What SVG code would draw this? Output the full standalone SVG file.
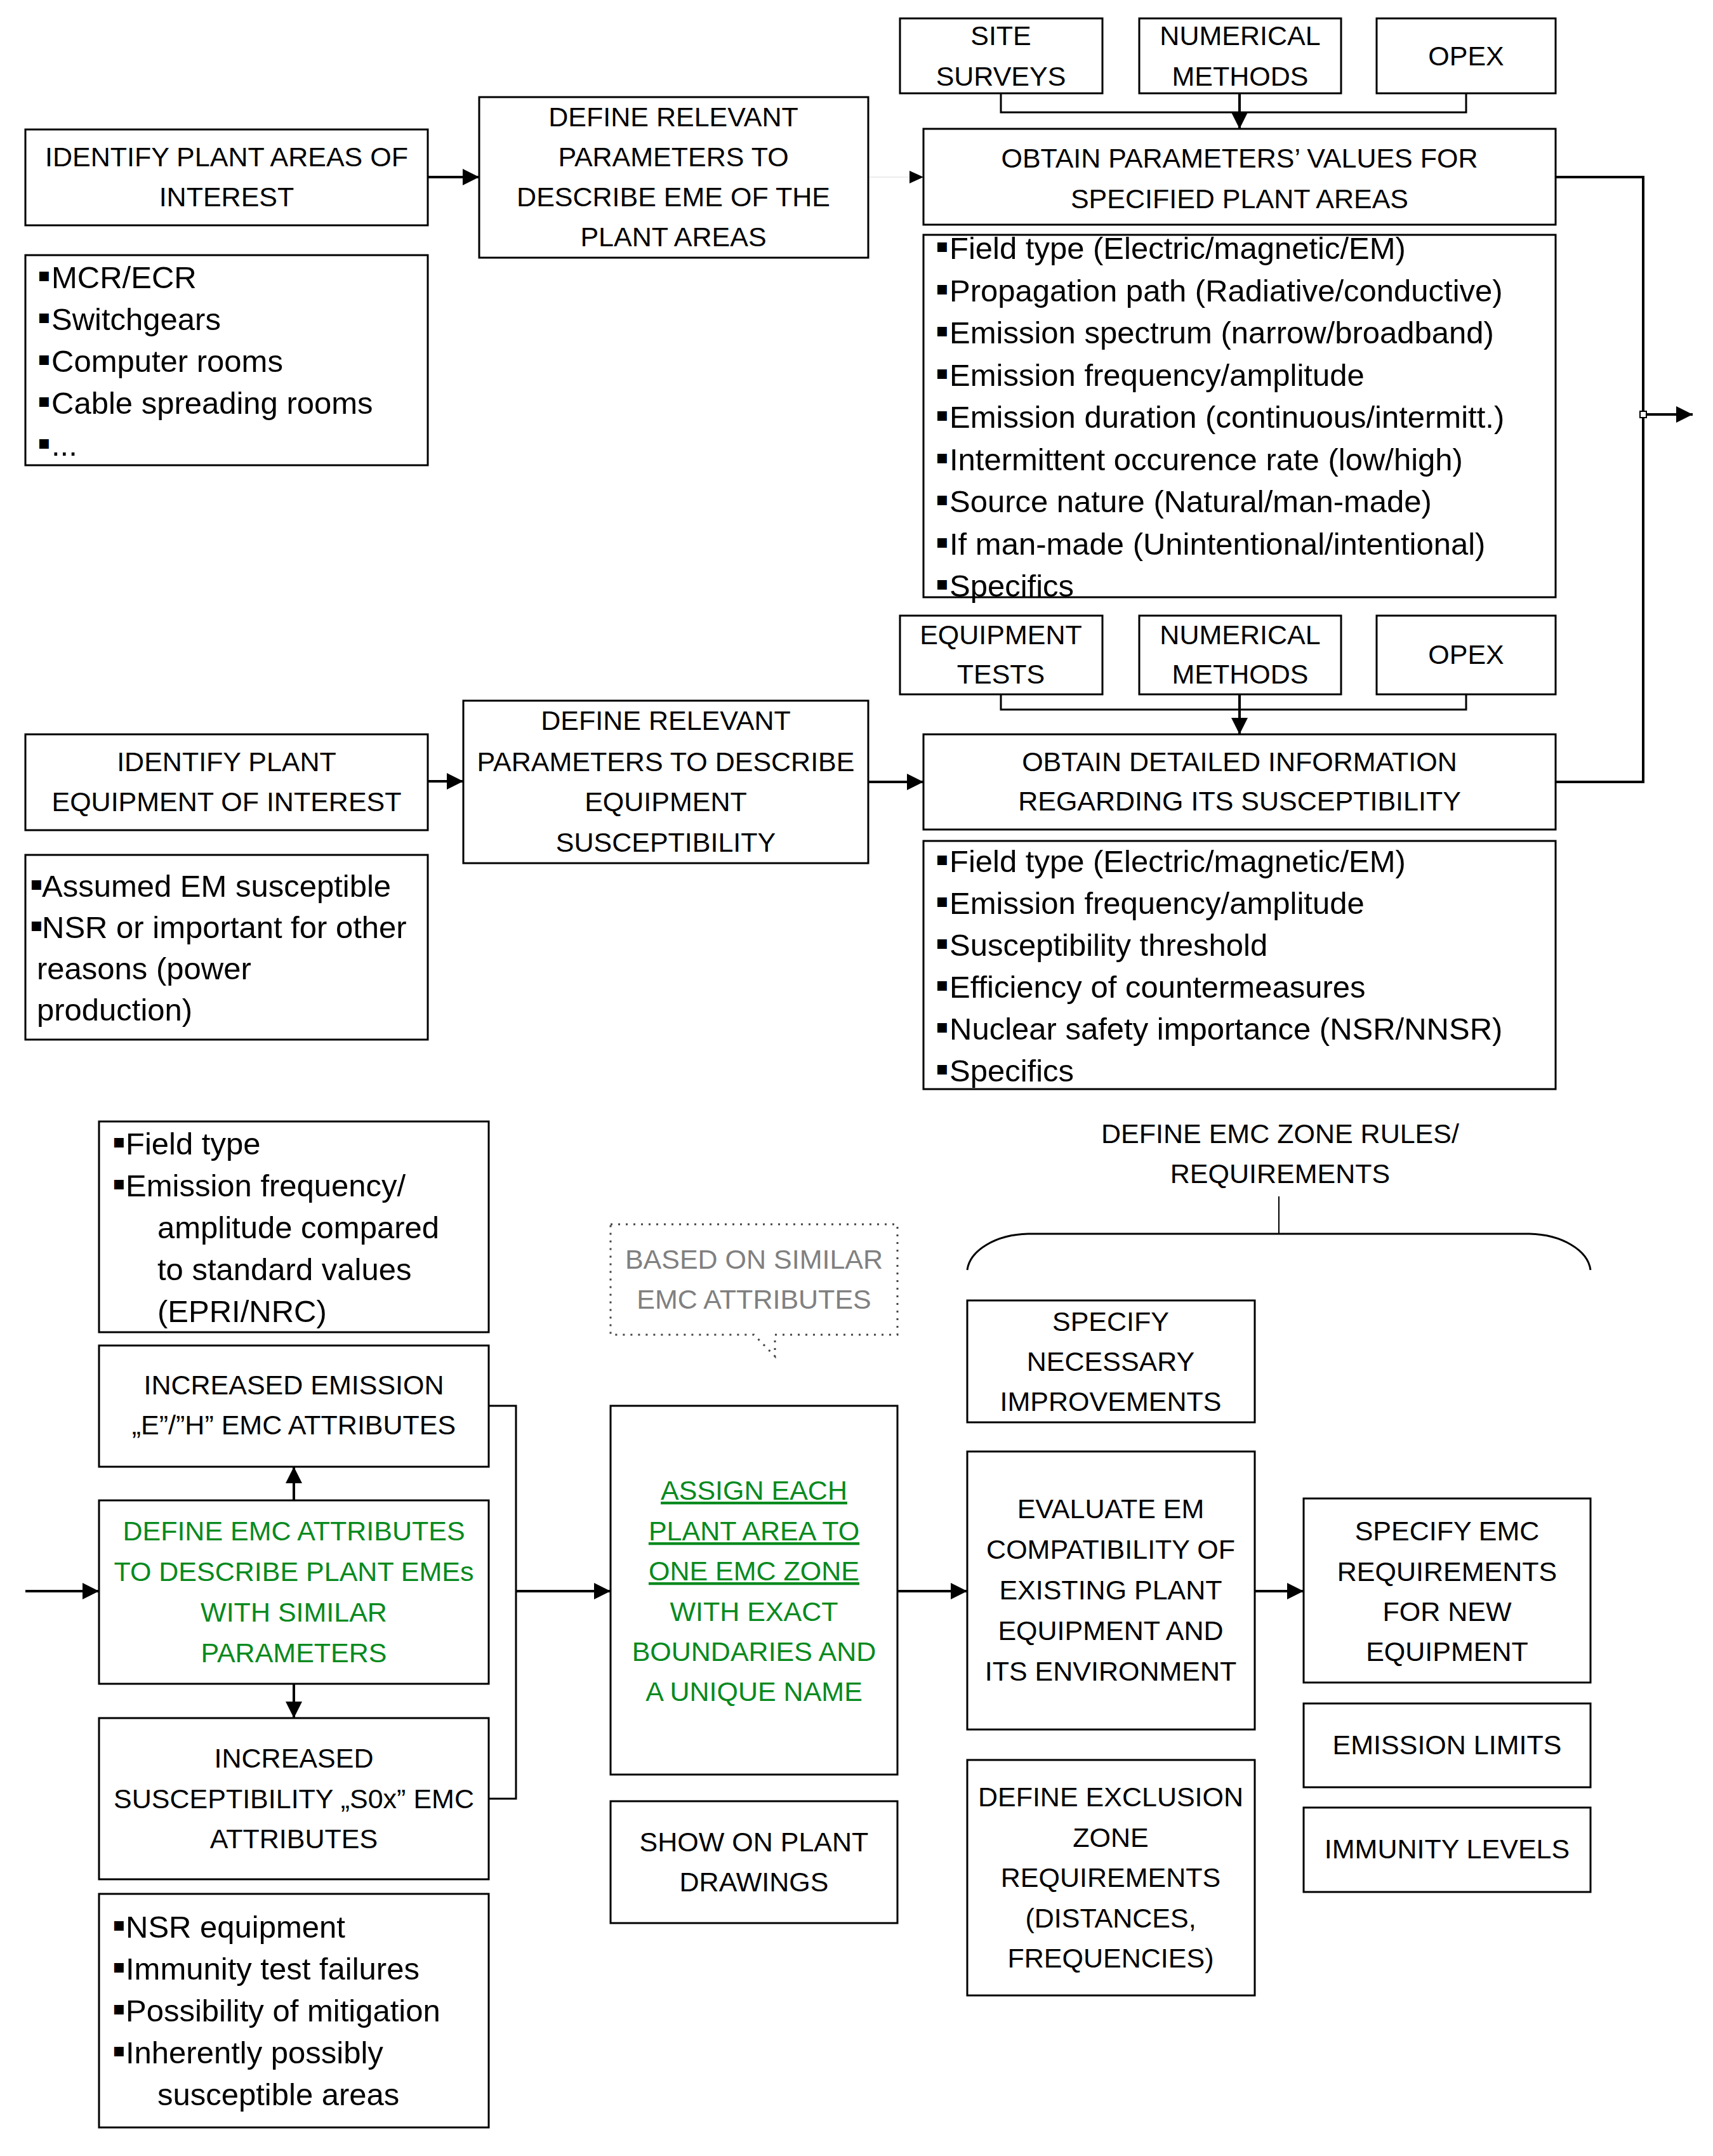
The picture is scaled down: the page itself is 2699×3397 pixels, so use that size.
<svg xmlns="http://www.w3.org/2000/svg" width="2699" height="3397" viewBox="0 0 2699 3397">
<defs>
<style>
.box{fill:#fff;stroke:#000;stroke-width:3}
.t{font-family:"Liberation Sans",Arial,sans-serif;font-size:43px;text-anchor:middle;fill:#000}
.l{font-family:"Liberation Sans",Arial,sans-serif;font-size:49px;fill:#000}
.bu{font-family:"DejaVu Sans",sans-serif;font-size:30px}
.g{fill:#078a1e}
.u{text-decoration:underline}
.gray{fill:#808080}
.c{stroke:#000;stroke-width:4;fill:none}
.thin{stroke:#000;stroke-width:3;fill:none}
</style>
<marker id="ah" markerUnits="userSpaceOnUse" markerWidth="28" markerHeight="26" viewBox="0 0 10 10" refX="10" refY="5" orient="auto">
<path d="M0,0 L10,5 L0,10 z" fill="#000"/>
</marker>
</defs>
<rect width="2699" height="3397" fill="#fff"/>

<g id="connectors">
<line class="c" x1="674" y1="279" x2="755" y2="279" marker-end="url(#ah)"/>
<line x1="1368" y1="279" x2="1435" y2="279" stroke="#ececec" stroke-width="2"/>
<path d="M1433,269 L1455,279 L1433,289 z" fill="#000"/>
<path class="thin" d="M1577,147 V177 H2310 V147"/>
<line class="c" x1="1953" y1="147" x2="1953" y2="203" marker-end="url(#ah)"/>
<path class="thin" d="M1577,1094 V1118 H2310 V1094"/>
<line class="c" x1="1953" y1="1094" x2="1953" y2="1157" marker-end="url(#ah)"/>
<path class="c" d="M2451,279 H2589 V1232 H2451"/>
<line class="c" x1="2589" y1="653" x2="2667" y2="653" marker-end="url(#ah)"/>
<rect x="2584" y="648" width="10" height="10" fill="#fff" stroke="#000" stroke-width="2"/>
<line class="c" x1="674" y1="1231" x2="730" y2="1231" marker-end="url(#ah)"/>
<line class="c" x1="1368" y1="1232" x2="1455" y2="1232" marker-end="url(#ah)"/>
<line class="c" x1="40" y1="2507" x2="156" y2="2507" marker-end="url(#ah)"/>
<line class="c" x1="463" y1="2364" x2="463" y2="2311" marker-end="url(#ah)"/>
<line class="c" x1="463" y1="2653" x2="463" y2="2707" marker-end="url(#ah)"/>
<path class="thin" d="M770,2215 H813 V2834 H770"/>
<line class="c" x1="813" y1="2507" x2="962" y2="2507" marker-end="url(#ah)"/>
<line class="c" x1="1414" y1="2507" x2="1524" y2="2507" marker-end="url(#ah)"/>
<line class="c" x1="1977" y1="2507" x2="2054" y2="2507" marker-end="url(#ah)"/>
<line x1="2015" y1="1885" x2="2015" y2="1944" stroke="#000" stroke-width="2"/>
<path d="M1524,2001 A100,62 0 0 1 1620,1944 H2410 A100,62 0 0 1 2506,2001" fill="none" stroke="#000" stroke-width="3"/>
</g>

<g id="n-identify-areas">
<rect class="box" x="40" y="204" width="634" height="151"/>
<text class="t" x="357" y="262">IDENTIFY PLANT AREAS OF</text>
<text class="t" x="357" y="325">INTEREST</text>
</g>
<g id="n-areas-list">
<rect class="box" x="40" y="402" width="634" height="331"/>
<text class="l" x="59" y="454"><tspan class="bu" dy="-11">▪</tspan><tspan x="81" dy="11">MCR/ECR</tspan></text>
<text class="l" x="59" y="520"><tspan class="bu" dy="-11">▪</tspan><tspan x="81" dy="11">Switchgears</tspan></text>
<text class="l" x="59" y="586"><tspan class="bu" dy="-11">▪</tspan><tspan x="81" dy="11">Computer rooms</tspan></text>
<text class="l" x="59" y="652"><tspan class="bu" dy="-11">▪</tspan><tspan x="81" dy="11">Cable spreading rooms</tspan></text>
<text class="l" x="59" y="718"><tspan class="bu" dy="-11">▪</tspan><tspan x="81" dy="11">...</tspan></text>
</g>
<g id="n-define-eme">
<rect class="box" x="755" y="153" width="613" height="253"/>
<text class="t" x="1061" y="199">DEFINE RELEVANT</text>
<text class="t" x="1061" y="262">PARAMETERS TO</text>
<text class="t" x="1061" y="325">DESCRIBE EME OF THE</text>
<text class="t" x="1061" y="388">PLANT AREAS</text>
</g>
<g id="n-site-surveys">
<rect class="box" x="1418" y="29" width="319" height="118"/>
<text class="t" x="1577" y="71">SITE</text>
<text class="t" x="1577" y="135">SURVEYS</text>
</g>
<g id="n-numerical-1">
<rect class="box" x="1795" y="29" width="318" height="118"/>
<text class="t" x="1954" y="71">NUMERICAL</text>
<text class="t" x="1954" y="135">METHODS</text>
</g>
<g id="n-opex-1">
<rect class="box" x="2169" y="29" width="282" height="118"/>
<text class="t" x="2310" y="103">OPEX</text>
</g>
<g id="n-obtain-params">
<rect class="box" x="1455" y="203" width="996" height="151"/>
<text class="t" x="1953" y="264">OBTAIN PARAMETERS’ VALUES FOR</text>
<text class="t" x="1953" y="328">SPECIFIED PLANT AREAS</text>
</g>
<g id="n-params-list">
<rect class="box" x="1455" y="370" width="996" height="571"/>
<text class="l" x="1474" y="408"><tspan class="bu" dy="-11">▪</tspan><tspan x="1496" dy="11">Field type (Electric/magnetic/EM)</tspan></text>
<text class="l" x="1474" y="474.5"><tspan class="bu" dy="-11">▪</tspan><tspan x="1496" dy="11">Propagation path (Radiative/conductive)</tspan></text>
<text class="l" x="1474" y="541"><tspan class="bu" dy="-11">▪</tspan><tspan x="1496" dy="11">Emission spectrum (narrow/broadband)</tspan></text>
<text class="l" x="1474" y="607.5"><tspan class="bu" dy="-11">▪</tspan><tspan x="1496" dy="11">Emission frequency/amplitude</tspan></text>
<text class="l" x="1474" y="674"><tspan class="bu" dy="-11">▪</tspan><tspan x="1496" dy="11">Emission duration (continuous/intermitt.)</tspan></text>
<text class="l" x="1474" y="740.5"><tspan class="bu" dy="-11">▪</tspan><tspan x="1496" dy="11">Intermittent occurence rate (low/high)</tspan></text>
<text class="l" x="1474" y="807"><tspan class="bu" dy="-11">▪</tspan><tspan x="1496" dy="11">Source nature (Natural/man-made)</tspan></text>
<text class="l" x="1474" y="873.5"><tspan class="bu" dy="-11">▪</tspan><tspan x="1496" dy="11">If man-made (Unintentional/intentional)</tspan></text>
<text class="l" x="1474" y="940"><tspan class="bu" dy="-11">▪</tspan><tspan x="1496" dy="11">Specifics</tspan></text>
</g>
<g id="n-equipment-tests">
<rect class="box" x="1418" y="970" width="319" height="124"/>
<text class="t" x="1577" y="1015">EQUIPMENT</text>
<text class="t" x="1577" y="1077">TESTS</text>
</g>
<g id="n-numerical-2">
<rect class="box" x="1795" y="970" width="318" height="124"/>
<text class="t" x="1954" y="1015">NUMERICAL</text>
<text class="t" x="1954" y="1077">METHODS</text>
</g>
<g id="n-opex-2">
<rect class="box" x="2169" y="970" width="282" height="124"/>
<text class="t" x="2310" y="1046">OPEX</text>
</g>
<g id="n-obtain-detailed">
<rect class="box" x="1455" y="1157" width="996" height="150"/>
<text class="t" x="1953" y="1215">OBTAIN DETAILED INFORMATION</text>
<text class="t" x="1953" y="1277">REGARDING ITS SUSCEPTIBILITY</text>
</g>
<g id="n-detailed-list">
<rect class="box" x="1455" y="1325" width="996" height="391"/>
<text class="l" x="1474" y="1374"><tspan class="bu" dy="-11">▪</tspan><tspan x="1496" dy="11">Field type (Electric/magnetic/EM)</tspan></text>
<text class="l" x="1474" y="1440"><tspan class="bu" dy="-11">▪</tspan><tspan x="1496" dy="11">Emission frequency/amplitude</tspan></text>
<text class="l" x="1474" y="1506"><tspan class="bu" dy="-11">▪</tspan><tspan x="1496" dy="11">Susceptibility threshold</tspan></text>
<text class="l" x="1474" y="1572"><tspan class="bu" dy="-11">▪</tspan><tspan x="1496" dy="11">Efficiency of countermeasures</tspan></text>
<text class="l" x="1474" y="1638"><tspan class="bu" dy="-11">▪</tspan><tspan x="1496" dy="11">Nuclear safety importance (NSR/NNSR)</tspan></text>
<text class="l" x="1474" y="1704"><tspan class="bu" dy="-11">▪</tspan><tspan x="1496" dy="11">Specifics</tspan></text>
</g>
<g id="n-identify-equipment">
<rect class="box" x="40" y="1157" width="634" height="151"/>
<text class="t" x="357" y="1215">IDENTIFY PLANT</text>
<text class="t" x="357" y="1278">EQUIPMENT OF INTEREST</text>
</g>
<g id="n-define-susceptibility">
<rect class="box" x="730" y="1104" width="638" height="256"/>
<text class="t" x="1049" y="1150">DEFINE RELEVANT</text>
<text class="t" x="1049" y="1215">PARAMETERS TO DESCRIBE</text>
<text class="t" x="1049" y="1278">EQUIPMENT</text>
<text class="t" x="1049" y="1342">SUSCEPTIBILITY</text>
</g>
<g id="n-equipment-list">
<rect class="box" x="40" y="1347" width="634" height="291"/>
<text class="l" x="47" y="1413"><tspan class="bu" dy="-11">▪</tspan><tspan x="66" dy="11">Assumed EM susceptible</tspan></text>
<text class="l" x="47" y="1478"><tspan class="bu" dy="-11">▪</tspan><tspan x="66" dy="11">NSR or important for other</tspan></text>
<text class="l" x="58" y="1543">reasons (power</text>
<text class="l" x="58" y="1608">production)</text>
</g>
<g id="n-field-list">
<rect class="box" x="156" y="1767" width="614" height="332"/>
<text class="l" x="177" y="1819"><tspan class="bu" dy="-11">▪</tspan><tspan x="198" dy="11">Field type</tspan></text>
<text class="l" x="177" y="1885"><tspan class="bu" dy="-11">▪</tspan><tspan x="198" dy="11">Emission frequency/</tspan></text>
<text class="l" x="248" y="1951">amplitude compared</text>
<text class="l" x="248" y="2017">to standard values</text>
<text class="l" x="248" y="2083">(EPRI/NRC)</text>
</g>
<g id="n-increased-emission">
<rect class="box" x="156" y="2120" width="614" height="191"/>
<text class="t" x="463" y="2197">INCREASED EMISSION</text>
<text class="t" x="463" y="2260">„E”/”H” EMC ATTRIBUTES</text>
</g>
<g id="n-define-emc-attributes">
<rect class="box" x="156" y="2364" width="614" height="289"/>
<text class="t g" x="463" y="2427">DEFINE EMC ATTRIBUTES</text>
<text class="t g" x="463" y="2491">TO DESCRIBE PLANT EMEs</text>
<text class="t g" x="463" y="2555">WITH SIMILAR</text>
<text class="t g" x="463" y="2619">PARAMETERS</text>
</g>
<g id="n-increased-susceptibility">
<rect class="box" x="156" y="2707" width="614" height="254"/>
<text class="t" x="463" y="2785">INCREASED</text>
<text class="t" x="463" y="2849">SUSCEPTIBILITY „S0x” EMC</text>
<text class="t" x="463" y="2912">ATTRIBUTES</text>
</g>
<g id="n-nsr-list">
<rect class="box" x="156" y="2984" width="614" height="368"/>
<text class="l" x="177" y="3053"><tspan class="bu" dy="-11">▪</tspan><tspan x="198" dy="11">NSR equipment</tspan></text>
<text class="l" x="177" y="3119"><tspan class="bu" dy="-11">▪</tspan><tspan x="198" dy="11">Immunity test failures</tspan></text>
<text class="l" x="177" y="3185"><tspan class="bu" dy="-11">▪</tspan><tspan x="198" dy="11">Possibility of mitigation</tspan></text>
<text class="l" x="177" y="3251"><tspan class="bu" dy="-11">▪</tspan><tspan x="198" dy="11">Inherently possibly</tspan></text>
<text class="l" x="248" y="3317">susceptible areas</text>
</g>
<g id="n-based-on">
<path d="M962,1929 H1414 V2103 H1221 V2137 L1188,2103 H962 Z" fill="#fff" stroke="#444" stroke-width="3" stroke-dasharray="3 9"/>
<text class="t gray" x="1188" y="1999">BASED ON SIMILAR</text>
<text class="t gray" x="1188" y="2062">EMC ATTRIBUTES</text>
</g>
<g id="n-assign">
<rect class="box" x="962" y="2215" width="452" height="581"/>
<text class="t g u" x="1188" y="2363">ASSIGN EACH</text>
<text class="t g u" x="1188" y="2427">PLANT AREA TO</text>
<text class="t g u" x="1188" y="2490">ONE EMC ZONE</text>
<text class="t g" x="1188" y="2554">WITH EXACT</text>
<text class="t g" x="1188" y="2617">BOUNDARIES AND</text>
<text class="t g" x="1188" y="2680">A UNIQUE NAME</text>
</g>
<g id="n-show-drawings">
<rect class="box" x="962" y="2838" width="452" height="192"/>
<text class="t" x="1188" y="2917">SHOW ON PLANT</text>
<text class="t" x="1188" y="2980">DRAWINGS</text>
</g>
<g id="n-zone-rules">
<text class="t" x="2017" y="1801">DEFINE EMC ZONE RULES/</text>
<text class="t" x="2017" y="1864">REQUIREMENTS</text>
</g>
<g id="n-specify-improvements">
<rect class="box" x="1524" y="2049" width="453" height="192"/>
<text class="t" x="1750" y="2097">SPECIFY</text>
<text class="t" x="1750" y="2160">NECESSARY</text>
<text class="t" x="1750" y="2223">IMPROVEMENTS</text>
</g>
<g id="n-evaluate">
<rect class="box" x="1524" y="2287" width="453" height="438"/>
<text class="t" x="1750" y="2392">EVALUATE EM</text>
<text class="t" x="1750" y="2456">COMPATIBILITY OF</text>
<text class="t" x="1750" y="2520">EXISTING PLANT</text>
<text class="t" x="1750" y="2584">EQUIPMENT AND</text>
<text class="t" x="1750" y="2648">ITS ENVIRONMENT</text>
</g>
<g id="n-exclusion">
<rect class="box" x="1524" y="2773" width="453" height="371"/>
<text class="t" x="1750" y="2846">DEFINE EXCLUSION</text>
<text class="t" x="1750" y="2910">ZONE</text>
<text class="t" x="1750" y="2973">REQUIREMENTS</text>
<text class="t" x="1750" y="3037">(DISTANCES,</text>
<text class="t" x="1750" y="3100">FREQUENCIES)</text>
</g>
<g id="n-specify-emc">
<rect class="box" x="2054" y="2361" width="452" height="290"/>
<text class="t" x="2280" y="2427">SPECIFY EMC</text>
<text class="t" x="2280" y="2491">REQUIREMENTS</text>
<text class="t" x="2280" y="2554">FOR NEW</text>
<text class="t" x="2280" y="2617">EQUIPMENT</text>
</g>
<g id="n-emission-limits">
<rect class="box" x="2054" y="2684" width="452" height="132"/>
<text class="t" x="2280" y="2764">EMISSION LIMITS</text>
</g>
<g id="n-immunity-levels">
<rect class="box" x="2054" y="2848" width="452" height="133"/>
<text class="t" x="2280" y="2928">IMMUNITY LEVELS</text>
</g>
</svg>
